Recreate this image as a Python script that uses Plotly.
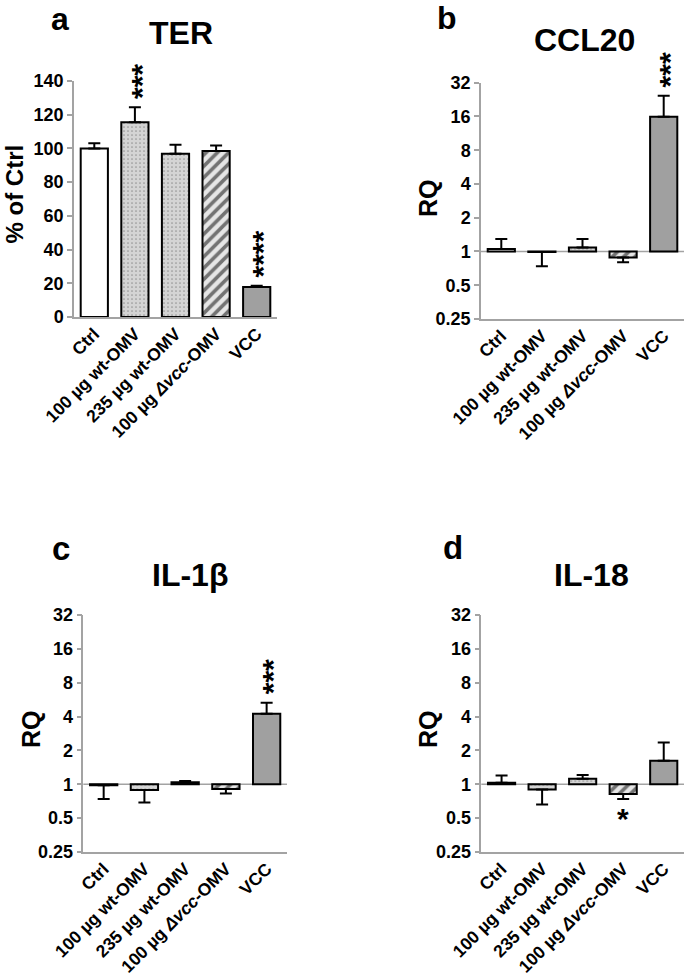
import math
import plotly.graph_objects as go

# ---------------- data ----------------
categories = ["Ctrl", "100 µg wt-OMV", "235 µg wt-OMV", "100 µg <i>Δvcc</i>-OMV", "VCC"]

ter_values = [100, 115.5, 96.9, 98.5, 17.8]
ter_err_tips = [103, 124.5, 102.2, 101.8, 18.5]

ccl20_values = [1.05, 0.99, 1.085, 0.885, 15.9]
ccl20_err_tips = [1.29, 0.74, 1.29, 0.80, 24.5]

il1b_values = [0.98, 0.89, 1.04, 0.91, 4.23]
il1b_err_tips = [0.74, 0.69, 1.07, 0.83, 5.32]

il18_values = [1.03, 0.90, 1.12, 0.82, 1.62]
il18_err_tips = [1.20, 0.66, 1.21, 0.74, 2.35]

ter_ticks = [0, 20, 40, 60, 80, 100, 120, 140]
log_ticks = [0.25, 0.5, 1, 2, 4, 8, 16, 32]
log_tick_labels = ["0.25", "0.5", "1", "2", "4", "8", "16", "32"]

# significance marks
ter_stars = {1: "***", 4: "****"}
ccl20_stars = {4: "***"}
il1b_stars = {4: "***"}
il18_stars_below = {3: "*"}

# ---------------- style ----------------
W, H = 685, 980
FONT = "Liberation Sans, Arial, sans-serif"
AXIS_GREY = "#a3a3a3"
fills = ["white", "#d4d4d4", "#d4d4d4", "#e6e6e6", "#a0a0a0"]
pat_shapes = ["", ".", ".", "/", ""]
pat_fg = ["black", "#555555", "#555555", "black", "black"]
pat_size = [6, 4, 4, 8, 6]
pat_sol = [0.2, 0.14, 0.14, 0.45, 0.2]


def px(x):
    return x / W


def py(y):
    return 1 - y / H


fig = go.Figure()

panels = [
    ("x", "y", ter_values, ter_err_tips, False, (74, 277), (81, 317)),
    ("x2", "y2", ccl20_values, ccl20_err_tips, True, (481, 684), (82.7, 319)),
    ("x3", "y3", il1b_values, il1b_err_tips, True, (83.3, 287), (615, 852)),
    ("x4", "y4", il18_values, il18_err_tips, True, (481.3, 684), (615, 852)),
]

for xa, ya, vals, tips, is_log, xd, yd in panels:
    base = 1 if is_log else 0
    for i, cat in enumerate(categories):
        pat = dict(shape=pat_shapes[i], fgcolor=pat_fg[i], size=pat_size[i],
                   solidity=pat_sol[i], fillmode="overlay")
        fig.add_trace(go.Bar(
            x=[cat], y=[vals[i] - base], base=base, xaxis=xa, yaxis=ya, width=0.67,
            marker=dict(color=fills[i], line=dict(color="black", width=2), pattern=pat),
            showlegend=False, hoverinfo="skip",
        ))
    up = [max(t - v, 0) for v, t in zip(vals, tips)]
    down = [max(v - t, 0) for v, t in zip(vals, tips)]
    fig.add_trace(go.Scatter(
        x=categories, y=vals, xaxis=xa, yaxis=ya, mode="markers",
        marker=dict(size=1, color="rgba(0,0,0,0)"),
        error_y=dict(type="data", symmetric=False, array=up, arrayminus=down,
                     color="black", thickness=2, width=6),
        showlegend=False, hoverinfo="skip",
    ))

tickfont = dict(family=FONT, size=18, color="black", weight="bold")
catfont = dict(family=FONT, size=17.5, color="black", weight="bold")
layout = dict(
    width=W, height=H, autosize=False,
    margin=dict(l=0, r=0, t=0, b=0),
    paper_bgcolor="white", plot_bgcolor="white",
    barmode="overlay",
)
for xa, ya, vals, tips, is_log, xd, yd in panels:
    xkey = "xaxis" if xa == "x" else "xaxis" + xa[1:]
    ykey = "yaxis" if ya == "y" else "yaxis" + ya[1:]
    layout[xkey] = dict(
        domain=[px(xd[0]), px(xd[1])], anchor=ya, range=[-0.5, 4.5],
        showline=True, linecolor=AXIS_GREY, linewidth=1.5, ticks="",
        showgrid=False, zeroline=False, tickangle=-45, tickfont=catfont,
        ticklabelstandoff=-2,
        fixedrange=True, automargin=False,
    )
    yax = dict(
        domain=[py(yd[1]), py(yd[0])], anchor=xa,
        showline=True, linecolor=AXIS_GREY, linewidth=1.5,
        ticks="outside", ticklen=5, tickwidth=1.5, tickcolor=AXIS_GREY,
        showgrid=False, zeroline=False, tickfont=tickfont, fixedrange=True,
        automargin=False,
    )
    if is_log:
        yax.update(type="log", range=[math.log10(log_ticks[0]), math.log10(log_ticks[-1])],
                   tickvals=log_ticks, ticktext=log_tick_labels)
    else:
        yax.update(range=[ter_ticks[0], ter_ticks[-1]], tickvals=ter_ticks)
    layout[ykey] = yax

fig.update_layout(**layout)

for xa, ya in [("x2", "y2"), ("x3", "y3"), ("x4", "y4")]:
    fig.add_shape(type="line", xref=xa + " domain", x0=0, x1=1, yref=ya, y0=1, y1=1,
                  line=dict(color=AXIS_GREY, width=1.5), layer="below")

ann = []
for txt, x, y, size in [
    ("a", 60, 19, 32), ("TER", 181, 33, 32),
    ("b", 447, 18, 32), ("CCL20", 584, 40, 32),
    ("c", 61, 548, 33), ("IL-1β", 190, 575, 32),
    ("d", 453, 547, 33), ("IL-18", 591, 575, 32),
]:
    ann.append(dict(text=txt, x=px(x), y=py(y), xref="paper", yref="paper",
                    xanchor="center", yanchor="middle", showarrow=False,
                    font=dict(family=FONT, size=size, color="black", weight="bold")))
for txt, x, y, size in [("% of Ctrl", 14.5, 194, 24), ("RQ", 428, 198, 25),
                        ("RQ", 31, 729, 25), ("RQ", 428, 729, 25)]:
    ann.append(dict(text=txt, x=px(x), y=py(y), xref="paper", yref="paper",
                    xanchor="center", yanchor="middle", showarrow=False, textangle=-90,
                    font=dict(family=FONT, size=size, color="black", weight="bold")))


def star_ann(xa, ya, idx, txt, tip, is_log):
    return dict(text=txt, x=categories[idx], xref=xa, yref=ya,
                y=math.log10(tip) if is_log else tip,
                xanchor="center", yanchor="middle", showarrow=False, textangle=-90,
                yshift=8 + 6 * len(txt), xshift=6,
                font=dict(family=FONT, size=30, color="black", weight="bold"))


for idx, txt in ter_stars.items():
    ann.append(star_ann("x", "y", idx, txt, ter_err_tips[idx], False))
for idx, txt in ccl20_stars.items():
    ann.append(star_ann("x2", "y2", idx, txt, ccl20_err_tips[idx], True))
for idx, txt in il1b_stars.items():
    ann.append(star_ann("x3", "y3", idx, txt, il1b_err_tips[idx], True))
for idx, txt in il18_stars_below.items():
    ann.append(dict(text=txt, x=categories[idx], xref="x4", yref="y4",
                    y=math.log10(il18_err_tips[idx]), xanchor="center", yanchor="middle",
                    showarrow=False, yshift=-20,
                    font=dict(family=FONT, size=30, color="black", weight="bold")))

fig.update_layout(annotations=ann)
fig.write_html("out.html", config={"displayModeBar": False},
               post_script="document.body.style.margin='0';document.body.style.overflow='hidden';")
